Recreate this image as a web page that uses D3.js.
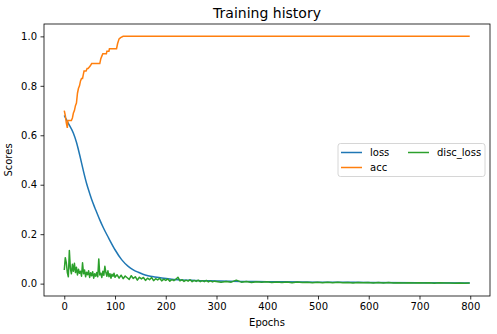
<!DOCTYPE html>
<meta charset="utf-8">
<style>
    body { margin: 0; background: #fff; }
    text { font-family: 'DejaVu Sans', sans-serif; fill: #000; }
</style>
<body>
    <div id="chart"></div>

    <script src="https://d3js.org/d3.v7.min.js"></script>

    <script>
        // loss curve at a few epochs
        var lossEpochs = [0, 8, 18, 24, 31, 37, 44, 50, 54, 60, 64, 70, 77, 87, 100, 113, 126, 136, 146, 155,
            165, 178, 192, 208, 224, 257, 300, 350, 400, 500, 600, 700, 799]
        var lossValues = [0.68, 0.648, 0.608, 0.572, 0.515, 0.462, 0.405, 0.365, 0.34, 0.308, 0.288, 0.258, 0.226, 0.186, 0.137, 0.097, 0.07, 0.056, 0.046, 0.038,
            0.032, 0.027, 0.023, 0.019, 0.016, 0.013, 0.011, 0.009, 0.008, 0.006, 0.005, 0.004, 0.003]

        // accuracy moves in small steps
        var accEpochs = [0, 2, 4, 6, 7, 14, 16, 18, 20, 22, 24, 26, 28, 30, 32, 34, 36, 38, 39, 43, 45, 47, 51, 54, 70, 72, 74, 76, 83, 84, 88, 89, 96, 103, 105, 108, 111, 116, 799]
        var accValues = [0.70, 0.68, 0.65, 0.63, 0.66, 0.66, 0.67, 0.69, 0.70, 0.72, 0.73, 0.77, 0.79, 0.80, 0.82, 0.83, 0.83, 0.85, 0.86, 0.86, 0.87, 0.87, 0.88, 0.89, 0.89, 0.91, 0.92, 0.93, 0.93, 0.94, 0.94, 0.95, 0.95, 0.95, 0.97, 0.99, 0.995, 1.0, 1.0]

        // disc_loss is noisy: every 2 epochs up to 100, every 4 up to 296, then every 10
        var discEarlyStart = 0, discEarlyStep = 2
        var discLossEarly = [0.055, 0.105, 0.085, 0.045, 0.028, 0.134, 0.062, 0.04, 0.078, 0.05,
            0.082, 0.045, 0.066, 0.035, 0.058, 0.042, 0.05, 0.03, 0.084, 0.04,
            0.055, 0.028, 0.046, 0.036, 0.052, 0.025, 0.044, 0.032, 0.048, 0.022,
            0.04, 0.03, 0.045, 0.028, 0.1, 0.035, 0.042, 0.025, 0.05, 0.034,
            0.07, 0.045, 0.03, 0.052, 0.028, 0.04, 0.022, 0.038, 0.03, 0.042, 0.026]
        var discMidStart = 104, discMidStep = 4
        var discLossMid = [0.036, 0.022, 0.034, 0.02, 0.031, 0.024, 0.017, 0.032, 0.021, 0.028,
            0.014, 0.026, 0.019, 0.025, 0.013, 0.022, 0.016, 0.025, 0.012, 0.02,
            0.015, 0.022, 0.011, 0.018, 0.013, 0.019, 0.01, 0.016, 0.012, 0.018,
            0.026, 0.011, 0.016, 0.009, 0.014, 0.01, 0.016, 0.008, 0.013, 0.009,
            0.014, 0.008, 0.012, 0.008, 0.013, 0.007, 0.011, 0.007, 0.01]
        var discLateStart = 309, discLateStep = 10
        var discLossLate = [0.006, 0.009, 0.006, 0.014, 0.006, 0.009, 0.005, 0.008, 0.006, 0.008,
            0.005, 0.007, 0.005, 0.007, 0.004, 0.007, 0.005, 0.006, 0.004, 0.006,
            0.004, 0.006, 0.004, 0.006, 0.004, 0.005, 0.003, 0.005, 0.004, 0.005,
            0.003, 0.005, 0.003, 0.005, 0.003, 0.004, 0.003, 0.004, 0.003, 0.004,
            0.003, 0.004, 0.002, 0.004, 0.003, 0.003, 0.002, 0.003, 0.002, 0.003]

        var xTicks = [0, 100, 200, 300, 400, 500, 600, 700, 800]
        var yTicks = [0.0, 0.2, 0.4, 0.6, 0.8, 1.0]
        var seriesNames = ['loss', 'acc', 'disc_loss']
        var seriesColors = ['#1f77b4', '#ff7f0e', '#2ca02c']

        var W = 497, H = 334
        var margin = { top: 24, right: 7, bottom: 38, left: 44 }
        var width = W - margin.left - margin.right
        var height = H - margin.top - margin.bottom

        function pairs(xs, ys) {
            return ys.map(function (v, i) { return [xs[i], v] })
        }
        function stepped(start, step, ys) {
            return ys.map(function (v, i) { return [start + i * step, v] })
        }

        var lossData = pairs(lossEpochs, lossValues)
        var accData = pairs(accEpochs, accValues)
        var discData = stepped(discEarlyStart, discEarlyStep, discLossEarly)
            .concat(stepped(discMidStart, discMidStep, discLossMid))
            .concat(stepped(discLateStart, discLateStep, discLossLate))

        // matplotlib pads the data range by 5%
        var x = d3.scaleLinear().domain([-39.95, 838.95]).range([0, width])
        var y = d3.scaleLinear().domain([-0.05, 1.05]).range([height, 0])

        var svg = d3.select('#chart')
            .append('svg')
            .attr('width', W)
            .attr('height', H)

        svg.append('text')
            .attr('x', margin.left + width / 2)
            .attr('y', 18)
            .attr('text-anchor', 'middle')
            .style('font-size', '14px')
            .text('Training history')

        var g = svg.append('g')
            .attr('transform', 'translate(' + margin.left + ',' + margin.top + ')')

        g.append('clipPath')
            .attr('id', 'clip')
            .append('rect')
            .attr('width', width)
            .attr('height', height)

        var line = d3.line()
            .x(function (d) { return x(d[0]) })
            .y(function (d) { return y(d[1]) })

        var plot = g.append('g').attr('clip-path', 'url(#clip)')

        plot.append('path')
            .datum(lossData)
            .attr('d', line.curve(d3.curveMonotoneX))
            .attr('fill', 'none')
            .attr('stroke', seriesColors[0])
            .attr('stroke-width', 1.5)

        plot.append('path')
            .datum(accData)
            .attr('d', line.curve(d3.curveLinear))
            .attr('fill', 'none')
            .attr('stroke', seriesColors[1])
            .attr('stroke-width', 1.5)

        plot.append('path')
            .datum(discData)
            .attr('d', line.curve(d3.curveLinear))
            .attr('fill', 'none')
            .attr('stroke', seriesColors[2])
            .attr('stroke-width', 1.5)
            .attr('stroke-linejoin', 'round')

        // axes
        var gx = g.append('g')
            .attr('transform', 'translate(0,' + height + ')')
            .call(d3.axisBottom(x).tickValues(xTicks).tickSize(3.5).tickPadding(3.5).tickSizeOuter(0))
        var gy = g.append('g')
            .call(d3.axisLeft(y).tickValues(yTicks).tickFormat(d3.format('.1f')).tickSize(3.5).tickPadding(3.5).tickSizeOuter(0))

        ;[gx, gy].forEach(function (ax) {
            ax.select('.domain').remove()
            ax.selectAll('line').attr('stroke', '#000').attr('stroke-width', 0.8)
            ax.selectAll('text').style('font-size', '10px').style('font-family', "'DejaVu Sans', sans-serif").attr('fill', '#000')
        })

        g.append('rect')
            .attr('width', width)
            .attr('height', height)
            .attr('fill', 'none')
            .attr('stroke', '#000')
            .attr('stroke-width', 0.8)

        g.append('text')
            .attr('x', width / 2)
            .attr('y', height + 30)
            .attr('text-anchor', 'middle')
            .style('font-size', '10px')
            .text('Epochs')

        g.append('text')
            .attr('transform', 'rotate(-90)')
            .attr('x', -height / 2)
            .attr('y', -32)
            .attr('text-anchor', 'middle')
            .style('font-size', '10px')
            .text('Scores')

        // legend, two columns, centre right
        var legend = svg.append('g')
            .attr('transform', 'translate(338,143.5)')
        legend.append('rect')
            .attr('width', 147)
            .attr('height', 33)
            .attr('rx', 2.5)
            .attr('fill', '#fff')
            .attr('fill-opacity', 0.8)
            .attr('stroke', '#ccc')
            .attr('stroke-width', 0.8)

        var items = legend.selectAll('g.item')
            .data(seriesNames)
            .enter()
            .append('g')
            .attr('class', 'item')
            .attr('transform', function (d, i) {
                var col = i < 2 ? 0 : 1
                var row = i < 2 ? i : 0
                return 'translate(' + (3 + col * 67) + ',' + (9 + row * 15) + ')'
            })
        items.append('line')
            .attr('x1', 0)
            .attr('x2', 21)
            .attr('stroke', function (d, i) { return seriesColors[i] })
            .attr('stroke-width', 1.5)
        items.append('text')
            .attr('x', 29)
            .attr('dy', '0.35em')
            .style('font-size', '10px')
            .text(function (d) { return d })
    </script>

</body>
